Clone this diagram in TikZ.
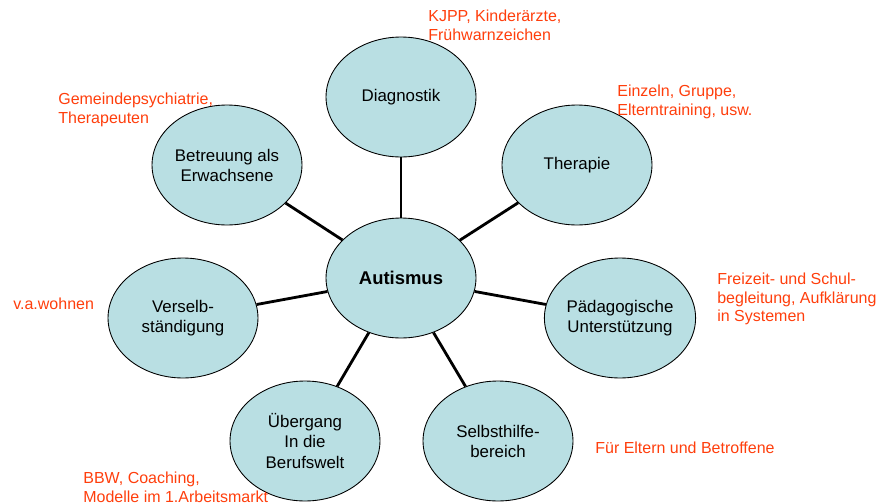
\documentclass[tikz,border=0pt]{standalone}
\usepackage{fontspec}
\setmainfont{Liberation Sans}
\usetikzlibrary{shapes.geometric}
\usetikzlibrary{positioning}
\definecolor{topicblue}{RGB}{185,223,227}
\definecolor{notered}{RGB}{255,62,12}
\tikzstyle{topic} = [ellipse, draw, fill=topicblue, line width=0.5pt,
    minimum width=3cm, minimum height=2.4cm, inner sep=0pt,
    align=center, font=\fontsize{9.6}{11.4}\selectfont]
\tikzstyle{note} = [anchor=north west, inner sep=0pt, align=left,
    text=notered, font=\fontsize{9.1}{10.5}\selectfont]
\tikzstyle{line} = [draw, line width=1.6pt]

\begin{document}
\begin{tikzpicture}[x=0.02cm, y=-0.02cm]
    \useasboundingbox (0,0) rectangle (877,504);
    % Place nodes
    \node[topic, font=\fontsize{10.5}{12}\selectfont\bfseries] (aut) at (401,278) {Autismus};
    \node[topic] (diag) at (401,97) {Diagnostik};
    \node[topic] (ther) at (577,165) {Therapie};
    \node[topic] (betr) at (227,165) {Betreuung als\\Erwachsene};
    \node[topic] (vers) at (183,318) {Verselb-\\ständigung};
    \node[topic] (paed) at (620,318) {Pädagogische\\Unterstützung};
    \node[topic] (selb) at (498,441) {Selbsthilfe-\\bereich};
    \node[topic] (uebg) at (305,441) {Übergang\\In die\\Berufswelt};
    % Place notes
    \node[note] (ndiag) at (428,10) {KJPP, Kinderärzte,\\Frühwarnzeichen};
    \node[note] (nther) at (617,85) {Einzeln, Gruppe,\\Elterntraining, usw.};
    \node[note] (nbetr) at (58,93) {Gemeindepsychiatrie,\\Therapeuten};
    \node[note] (nvers) at (13,298) {v.a.wohnen};
    \node[note] (npaed) at (717,273) {Freizeit- und Schul-\\begleitung, Aufklärung\\in Systemen};
    \node[note] (nselb) at (595,442) {Für Eltern und Betroffene};
    \node[note] (nuebg) at (83,472) {BBW, Coaching,\\Modelle im 1.Arbeitsmarkt};
    % Draw edges
    \path [line] (aut) -- (diag);
    \path [line] (aut) -- (ther);
    \path [line] (aut) -- (betr);
    \path [line] (aut) -- (vers);
    \path [line] (aut) -- (paed);
    \path [line] (aut) -- (selb);
    \path [line] (aut) -- (uebg);
\end{tikzpicture}
\end{document}
